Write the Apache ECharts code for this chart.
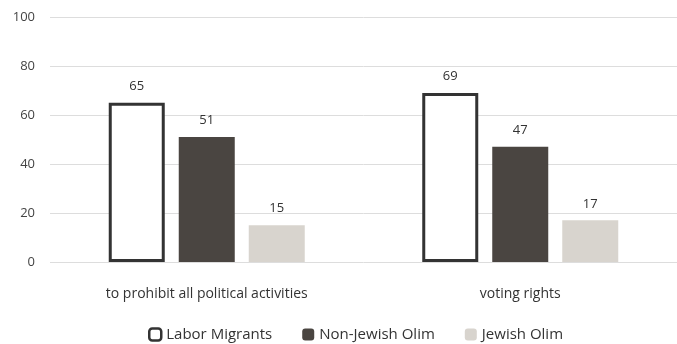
<!DOCTYPE html>
<html><head><meta charset="utf-8">
<script src="https://cdn.jsdelivr.net/npm/echarts@6/dist/echarts.min.js"></script>
<style>html,body{margin:0;padding:0;background:#fff}#c{width:677px;height:344px}</style>
</head><body><div id="c"></div>
<script>
const categories = ["to prohibit all political activities", "voting rights"];
const laborMigrants = [65, 69];
const nonJewishOlim = [51, 47];
const jewishOlim = [15, 17];
const yTicks = [0, 20, 40, 60, 80, 100];

const font = "Open Sans";
const chart = echarts.init(document.getElementById('c'));
chart.setOption({
  animation: false,
  textStyle: {fontFamily: font},
  grid: {left: 50, right: 0, top: 17, bottom: 82},
  legend: {
    bottom: -3, left: 143, itemGap: 30, itemWidth: 12, itemHeight: 12,
    textStyle: {fontFamily: font, fontSize: 15, color: '#333'},
    data: [
      {name: 'Labor Migrants', itemStyle: {color: '#fff', borderColor: '#333', borderWidth: 2.5}},
      {name: 'Non-Jewish Olim', itemStyle: {color: '#4a4541'}},
      {name: 'Jewish Olim', itemStyle: {color: '#d8d4ce'}}
    ]
  },
  xAxis: {
    type: 'category', data: categories,
    axisLine: {show: false}, axisTick: {show: false},
    axisLabel: {fontFamily: font, fontSize: 14, color: '#333', margin: 25}
  },
  yAxis: {
    type: 'value', min: 0, max: 100, interval: 20,
    axisLabel: {fontFamily: font, fontSize: 13, color: '#444', margin: 15,
      formatter: v => yTicks.includes(v) ? String(v) : ''},
    splitLine: {lineStyle: {color: '#ddd', width: 1}},
    axisLine: {show: false}, axisTick: {show: false}
  },
  series: [
    {name: 'Labor Migrants', type: 'bar', data: laborMigrants, barWidth: 56, barGap: '25%', barCategoryGap: '37%',
     itemStyle: {color: '#fff', borderColor: '#333', borderWidth: 3},
     label: {show: true, position: 'top', distance: 10, fontSize: 13, color: '#333', fontFamily: font}},
    {name: 'Non-Jewish Olim', type: 'bar', data: nonJewishOlim, barWidth: 56,
     itemStyle: {color: '#4a4541'},
     label: {show: true, position: 'top', distance: 10, fontSize: 13, color: '#333', fontFamily: font}},
    {name: 'Jewish Olim', type: 'bar', data: jewishOlim, barWidth: 56,
     itemStyle: {color: '#d8d4ce'},
     label: {show: true, position: 'top', distance: 10, fontSize: 13, color: '#333', fontFamily: font}}
  ]
});
</script></body></html>
